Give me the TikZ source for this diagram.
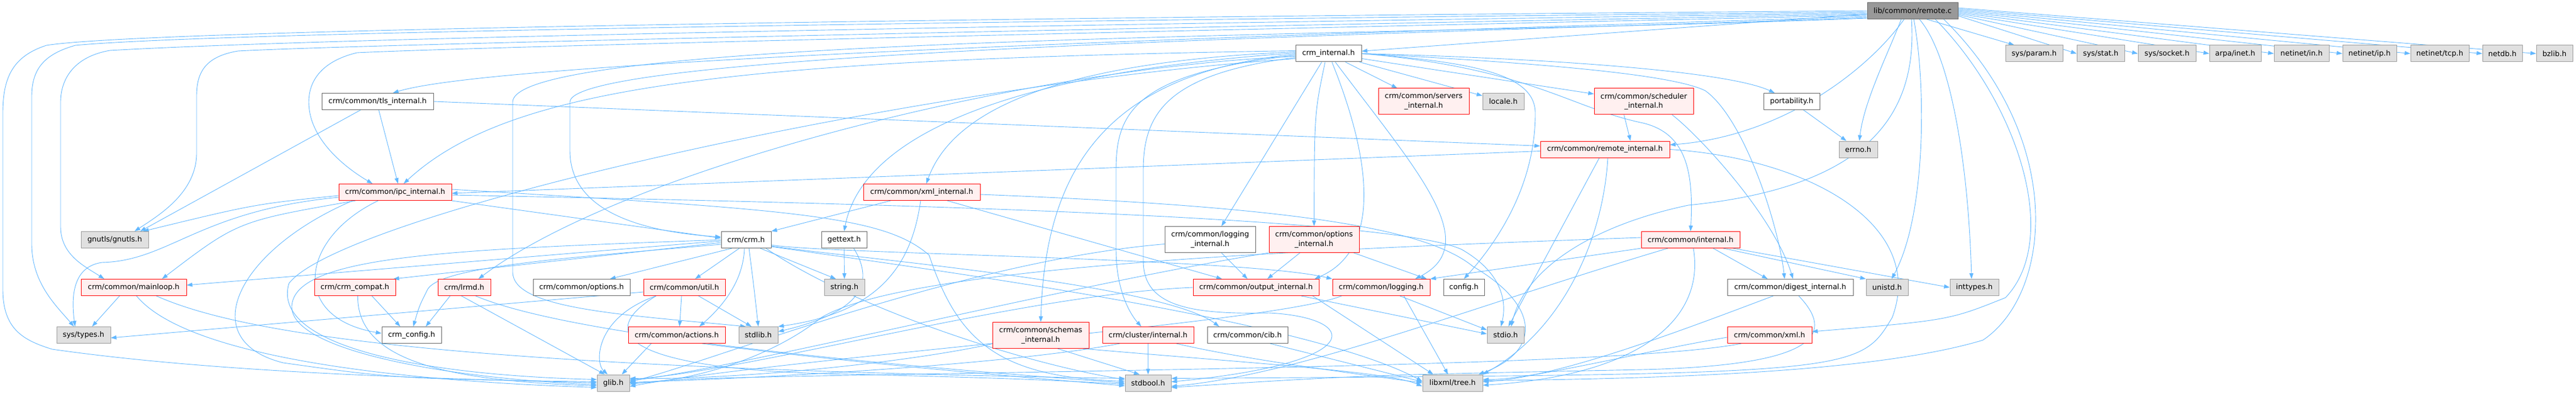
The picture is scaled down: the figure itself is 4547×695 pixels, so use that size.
\documentclass[tikz,border=0pt]{standalone}
\usepackage{fontspec}
\setmainfont{DejaVu Sans}
\usetikzlibrary{arrows.meta}
\definecolor{edgec}{HTML}{63B8FF}
\definecolor{redfill}{HTML}{FFF0F0}
\definecolor{redline}{HTML}{FF0000}
\definecolor{grayfill}{HTML}{E0E0E0}
\definecolor{grayline}{HTML}{999999}
\definecolor{darkline}{HTML}{666666}
\definecolor{rootfill}{HTML}{999999}
\pgfdeclarelayer{bg}
\pgfsetlayers{bg,main}
\newcommand{\dxfont}{\fontsize{12.9}{16.4}\selectfont}
\begin{document}
\begin{tikzpicture}[x=1pt,y=-1pt,
  box/.style={rectangle, draw, line width=1pt, inner sep=0pt, minimum height=29pt, align=center, font=\dxfont},
  rbox/.style={box, draw=redline, fill=redfill},
  wbox/.style={box, draw=darkline, fill=white},
  gbox/.style={box, draw=grayline, fill=grayfill},
  rootbox/.style={box, draw=darkline, fill=rootfill},
  dbl/.style={minimum height=46pt},
  dep/.style={draw=edgec, line width=0.9pt, -{Triangle[length=10pt,width=7pt]}}
]
\useasboundingbox (0,0) rectangle (4547,695);
% rank 0
\node[rootbox, minimum width=160pt] (R) at (3376,19) {lib/common/remote.c};
% rank 1
\node[wbox, minimum width=116pt] (crmint) at (2345,94.5) {crm\_internal.h};
\node[gbox, minimum width=101pt] (sysparam) at (3590.5,94.5) {sys/param.h};
\node[gbox, minimum width=84pt] (sysstat) at (3708,94.5) {sys/stat.h};
\node[gbox, minimum width=102pt] (syssocket) at (3825,94.5) {sys/socket.h};
\node[gbox, minimum width=91pt] (arpainet) at (3945.5,94.5) {arpa/inet.h};
\node[gbox, minimum width=97pt] (netin) at (4062.5,94.5) {netinet/in.h};
\node[gbox, minimum width=95pt] (netip) at (4182.5,94.5) {netinet/ip.h};
\node[gbox, minimum width=103pt] (nettcp) at (4306.5,94.5) {netinet/tcp.h};
\node[gbox, minimum width=70pt] (netdb) at (4417,94.5) {netdb.h};
\node[gbox, minimum width=64pt] (bzlib) at (4509,94.5) {bzlib.h};
% rank 2
\node[wbox, minimum width=197pt] (tls) at (666.5,179) {crm/common/tls\_internal.h};
\node[rbox, dbl, minimum width=160pt] (servers) at (2513,179) {crm/common/servers\\\_internal.h};
\node[gbox, minimum width=73pt] (locale) at (2653.5,179) {locale.h};
\node[rbox, dbl, minimum width=175pt] (sched) at (2901.5,179) {crm/common/scheduler\\\_internal.h};
\node[wbox, minimum width=99pt] (portab) at (3162.5,179) {portability.h};
% rank 3
\node[rbox, minimum width=228pt] (remint) at (2833,263.5) {crm/common/remote\_internal.h};
\node[gbox, minimum width=68pt] (errno) at (3280,263.5) {errno.h};
% rank 4
\node[rbox, minimum width=199pt] (ipcint) at (697.5,339) {crm/common/ipc\_internal.h};
\node[rbox, minimum width=206pt] (xmlint) at (1627,339) {crm/common/xml\_internal.h};
% rank 5
\node[gbox, minimum width=119pt] (gnutls) at (202.5,423) {gnutls/gnutls.h};
\node[wbox, minimum width=88pt] (crmh) at (1317,423) {crm/crm.h};
\node[wbox, minimum width=80pt] (gettext) at (1490,423) {gettext.h};
\node[wbox, dbl, minimum width=160pt] (logint) at (2136,422.5) {crm/common/logging\\\_internal.h};
\node[rbox, dbl, minimum width=159pt] (optint) at (2319.5,422.5) {crm/common/options\\\_internal.h};
\node[rbox, minimum width=174pt] (cmnint) at (2984,423) {crm/common/internal.h};
% rank 6
\node[rbox, minimum width=186pt] (mainloop) at (236,507) {crm/common/mainloop.h};
\node[rbox, minimum width=143pt] (compat) at (626.5,507) {crm/crm\_compat.h};
\node[rbox, minimum width=93pt] (lrmd) at (819.5,507) {crm/lrmd.h};
\node[wbox, minimum width=171pt] (options) at (1026.5,507) {crm/common/options.h};
\node[rbox, minimum width=144pt] (util) at (1208,507) {crm/common/util.h};
\node[gbox, minimum width=71pt] (stringh) at (1490.5,507) {string.h};
\node[rbox, minimum width=222pt] (outint) at (2217,507) {crm/common/output\_internal.h};
\node[rbox, minimum width=172pt] (logging) at (2438,507) {crm/common/logging.h};
\node[wbox, minimum width=72pt] (config) at (2584,507) {config.h};
\node[wbox, minimum width=222pt] (digest) at (3160,507) {crm/common/digest\_internal.h};
\node[gbox, minimum width=74pt] (unistd) at (3331,507) {unistd.h};
\node[gbox, minimum width=86pt] (inttypes) at (3485,507) {inttypes.h};
% rank 7
\node[gbox, minimum width=95pt] (systypes) at (147.5,591) {sys/types.h};
\node[wbox, minimum width=105pt] (crmconfig) at (726.5,591) {crm\_config.h};
\node[rbox, minimum width=171pt] (actions) at (1194.5,591) {crm/common/actions.h};
\node[gbox, minimum width=69pt] (stdlib) at (1338.5,591) {stdlib.h};
\node[rbox, dbl, minimum width=170pt] (schemas) at (1837,591.5) {crm/common/schemas\\\_internal.h};
\node[rbox, minimum width=161pt] (cluster) at (2026.5,591) {crm/cluster/internal.h};
\node[wbox, minimum width=142pt] (cib) at (2202,591) {crm/common/cib.h};
\node[gbox, minimum width=65pt] (stdio) at (2657.5,591) {stdio.h};
\node[rbox, minimum width=149pt] (xmlh) at (3123.5,591) {crm/common/xml.h};
% rank 8
\node[gbox, minimum width=57pt] (glib) at (1082.5,675.5) {glib.h};
\node[gbox, minimum width=81pt] (stdbool) at (2026.5,675.5) {stdbool.h};
\node[gbox, minimum width=106pt] (libxml) at (2564,675.5) {libxml/tree.h};

\begin{pgfonlayer}{bg}
\fill[white] (0,0) rectangle (4547,695);
% ---------- from remote.c ----------
\draw[dep] (R) -- (crmint);
\draw[dep] ([xshift=25]R.south) -- ([xshift=-35]sysparam.north);
\draw[dep] ([yshift=-9]R.east) -- (sysstat.west);
\draw[dep] ([yshift=-7]R.east) -- (syssocket.west);
\draw[dep] ([yshift=-5]R.east) -- (arpainet.west);
\draw[dep] ([yshift=-3]R.east) -- (netin.west);
\draw[dep] ([yshift=-1]R.east) -- (netip.west);
\draw[dep] ([yshift=1]R.east) -- (nettcp.west);
\draw[dep] ([yshift=3]R.east) -- (netdb.west);
\draw[dep] ([yshift=5]R.east) -- (bzlib.west);
\draw[dep] ([xshift=-20]R.south) .. controls (3330,100) and (3290,180) .. ([xshift=2]errno.north);
\draw[dep] ([xshift=2]R.south) .. controls (3400,150) and (3400,380) .. ([xshift=8]unistd.north);
\draw[dep] ([xshift=12]R.south) .. controls (3445,100) and (3475,300) .. ([xshift=-5]inttypes.north);
\draw[dep] ([xshift=40]R.south) .. controls (3560,180) and (3640,420) .. (3540,525) .. controls (3440,565) .. ([yshift=6]xmlh.east);
\draw[dep] ([xshift=-2]R.south) .. controls (3385,200) and (3300,330) .. (2980,362) .. controls (2800,400) and (2690,480) .. ([xshift=10]stdio.north);
\draw[dep] ([xshift=-15]R.south) .. controls (3300,120) and (3150,240) .. ([yshift=8]remint.east);
\draw[dep] ([xshift=55]R.south) .. controls (3650,250) and (3620,520) .. (3500,600) .. controls (3300,660) and (2900,668) .. ([yshift=4]libxml.east);
\draw[dep] (R.west) .. controls (2500,25) and (300,45) .. (82,80) .. controls (20,100) and (5,140) .. (5,200) -- (5,510) .. controls (5,580) and (40,600) .. (92,616) .. controls (400,660) and (800,668) .. (glib.west);
\draw[dep] ([yshift=-2]R.west) .. controls (2500,30) and (450,50) .. (133,80) .. controls (80,95) and (56,120) .. (56,170) -- (56,430) .. controls (56,500) and (100,540) .. ([xshift=-17]systypes.north);
\draw[dep] ([yshift=-4]R.west) .. controls (2500,35) and (700,60) .. (194,89) .. controls (130,100) and (107,140) .. (107,180) -- (107,400) .. controls (107,450) and (150,470) .. ([xshift=-52]mainloop.north);
\draw[dep] ([yshift=-6]R.west) .. controls (2500,40) and (700,75) .. (420,90) .. controls (360,100) and (347,130) .. (347,170) -- (347,270) .. controls (347,340) and (280,380) .. ([xshift=35]gnutls.north);
\draw[dep] ([yshift=-8]R.west) .. controls (2500,45) and (900,80) .. (630,93) .. controls (560,110) and (545,150) .. (545,180) .. controls (545,240) and (600,290) .. ([xshift=-40]ipcint.north);
\draw[dep] ([yshift=-10]R.west) .. controls (2500,55) and (900,100) .. ([xshift=27]tls.north);
\draw[dep] ([yshift=-12]R.west) .. controls (2500,60) and (1006,90) .. (1006,180) -- (1006,266) .. controls (1006,380) and (1150,410) .. ([yshift=5]crmh.west);
\draw[dep] ([yshift=-13]R.west) .. controls (2500,65) and (905,60) .. (905,180) -- (905,480) .. controls (905,545) and (1100,555) .. ([xshift=-22]stdlib.north);
% ---------- from crm_internal.h ----------
\draw[dep] (crmint) -- (servers);
\draw[dep] (crmint) -- (locale);
\draw[dep] (crmint) -- (sched);
\draw[dep] ([yshift=5]crmint.west) .. controls (1300,105) and (900,150) .. ([xshift=15]ipcint.north);
\draw[dep] ([yshift=-5]crmint.west) .. controls (1800,120) and (1100,300) .. ([xshift=25]lrmd.north);
\draw[dep] ([yshift=3]crmint.west) .. controls (1850,110) and (1680,200) .. ([xshift=8]xmlint.north);
\draw[dep] ([yshift=1]crmint.west) .. controls (1750,130) and (1520,250) .. (gettext.north);
\draw[dep] ([yshift=-1]crmint.west) .. controls (1950,130) and (1845,300) .. (schemas.north);
\draw[dep] ([yshift=-3]crmint.west) .. controls (2000,130) and (1970,200) .. (1970,300) -- (1970,440) .. controls (1970,520) and (2000,560) .. ([xshift=-12]cluster.north);
\draw[dep] ([yshift=-7]crmint.west) .. controls (2060,130) and (2018,200) .. (2018,300) -- (2018,460) .. controls (2018,540) and (2100,555) .. (2240,552) .. controls (2400,560) and (2420,640) .. ([yshift=2]stdbool.east);
\draw[dep] ([yshift=-9]crmint.west) .. controls (1600,150) and (600,380) .. (510,500) .. controls (480,600) and (700,660) .. ([yshift=6]glib.west);
\draw[dep] ([xshift=-12]crmint.south) -- ([xshift=20]logint.north);
\draw[dep] ([xshift=-6]crmint.south) .. controls (2320,200) .. (optint.north);
\draw[dep] ([xshift=6]crmint.south) .. controls (2420,280) and (2440,440) .. ([xshift=-8]outint.north east);
\draw[dep] ([xshift=12]crmint.south) .. controls (2500,300) and (2620,430) .. ([xshift=60]logging.north);
\draw[dep] (crmint.east) .. controls (2600,110) and (2710,130) .. (2710,200) .. controls (2710,330) and (2640,430) .. (config.north);
\draw[dep] (crmint.east) .. controls (2800,105) and (3060,130) .. ([xshift=-30]portab.north);
\draw[dep] (crmint.east) .. controls (2700,110) and (2950,130) .. (3010,160) .. controls (3080,210) and (3140,400) .. ([xshift=-10]digest.north);
\draw[dep] (crmint.east) .. controls (2700,120) and (2770,190) .. (2900,217) .. controls (2975,235) and (2990,300) .. (cmnint.north);
% ---------- tls / remote_internal / scheduler / portability ----------
\draw[dep] ([xshift=-30]tls.south) -- ([xshift=45]gnutls.north);
\draw[dep] ([xshift=2]tls.south) -- ([xshift=5]ipcint.north);
\draw[dep] (tls.east) -- ([yshift=6]remint.west);
\draw[dep] ([yshift=-3]remint.west) -- ([yshift=-2]ipcint.east);
\draw[dep] ([xshift=-10]remint.south) -- ([xshift=5]stdio.north);
\draw[dep] ([xshift=5]remint.south) .. controls (2830,420) and (2760,580) .. (libxml.north east);
\draw[dep] (remint.east) .. controls (3200,280) and (3400,400) .. (3340,560) .. controls (3280,660) .. ([yshift=8]stdbool.east);
\draw[dep] ([xshift=-35]sched.south) -- ([xshift=45]remint.north);
\draw[dep] ([xshift=50]sched.south) .. controls (3000,240) and (3130,380) .. ([xshift=5]digest.north);
\draw[dep] (portab) -- (errno);
% ---------- ipc_internal ----------
\draw[dep] ([yshift=-6]ipcint.west) .. controls (450,360) .. ([xshift=50]gnutls.north);
\draw[dep] ([yshift=-9]ipcint.west) .. controls (350,372) and (300,460) .. (180,463) .. controls (130,470) and (125,520) .. ([xshift=-15]systypes.north);
\draw[dep] ([xshift=-70]ipcint.south) .. controls (420,390) .. ([xshift=50]mainloop.north);
\draw[dep] ([xshift=-30]ipcint.south) .. controls (530,420) and (510,560) .. ([yshift=3]crmconfig.west);
\draw[dep] ([xshift=-75]ipcint.south) .. controls (420,440) and (340,600) .. (500,640) .. controls (700,668) .. ([yshift=2]glib.west);
\draw[dep] (ipcint.south east) -- ([yshift=3]crmh.west);
\draw[dep] ([yshift=5]ipcint.east) .. controls (1400,370) and (1560,380) .. (1640,450) .. controls (1690,600) and (1760,665) .. ([yshift=3]stdbool.west);
\draw[dep] ([yshift=-5]ipcint.east) .. controls (1500,358) and (2450,380) .. (2580,440) .. controls (2650,480) and (2660,530) .. ([xshift=-8]stdio.north);
% ---------- xml_internal ----------
\draw[dep] ([xshift=-55]xmlint.south) -- (crmh.north east);
\draw[dep] ([xshift=-2]xmlint.south) .. controls (1610,460) and (1560,550) .. (stdlib.north east);
\draw[dep] ([xshift=45]xmlint.south) -- ([xshift=-60]outint.north);
\draw[dep] ([yshift=-4]xmlint.east) .. controls (2300,365) and (2520,405) .. (2600,470) .. controls (2720,540) and (2720,620) .. ([xshift=-8]libxml.north east);
% ---------- crm.h ----------
\draw[dep] ([yshift=-2]crmh.west) -- ([yshift=4]mainloop.east);
\draw[dep] ([yshift=-5]crmh.west) -- ([xshift=-4]compat.north east);
\draw[dep] ([yshift=-8]crmh.west) .. controls (1000,455) and (780,470) .. (755,510) .. controls (740,540) .. ([xshift=3]crmconfig.north);
\draw[dep] ([xshift=-25]crmh.south) -- ([xshift=50]options.north);
\draw[dep] ([xshift=-12]crmh.south) -- ([xshift=19]util.north);
\draw[dep] ([xshift=-3]crmh.south) .. controls (1312,500) and (1270,545) .. ([xshift=40]actions.north);
\draw[dep] ([xshift=5]crmh.south) .. controls (1330,500) .. (stdlib.north);
\draw[dep] ([xshift=25]crmh.south) -- ([xshift=-15]stringh.north);
\draw[dep] ([xshift=35]crmh.south) .. controls (1500,540) and (1800,640) .. ([yshift=6]stdbool.west);
\draw[dep] ([yshift=-9]crmh.east) .. controls (1450,448) and (2200,455) .. (logging.north west);
\draw[dep] ([yshift=-11]crmh.east) .. controls (1500,455) and (2050,500) .. ([xshift=-50]cib.north);
\draw[dep] ([yshift=-12]crmh.east) .. controls (1600,470) and (2300,560) .. ([yshift=3]libxml.west);
\draw[dep] (crmh.west) .. controls (800,440) and (520,450) .. (515,540) .. controls (512,620) and (800,668) .. ([yshift=-3]glib.west);
% ---------- util / actions / compat / mainloop / lrmd / gettext ----------
\draw[dep] ([yshift=-8]util.west) -- ([yshift=-5]systypes.east);
\draw[dep] ([xshift=-50]util.south) .. controls (1050,560) and (1050,640) .. ([xshift=-10]glib.north);
\draw[dep] ([xshift=-5]util.south) -- ([xshift=5]actions.north);
\draw[dep] ([xshift=25]util.south) -- ([xshift=-12]stdlib.north);
\draw[dep] ([xshift=-50]util.south) .. controls (1030,600) and (1150,655) .. (1500,660) .. controls (1800,668) .. ([yshift=-2]stdbool.west);
\draw[dep] ([xshift=-45]actions.south) -- ([xshift=15]glib.north);
\draw[dep] ([xshift=45]actions.south) .. controls (1500,640) and (1800,665) .. ([yshift=-5]stdbool.west);
\draw[dep] ([xshift=30]compat.south) -- ([xshift=-20]crmconfig.north);
\draw[dep] ([xshift=5]compat.south) .. controls (630,640) and (800,672) .. ([yshift=-5]glib.west);
\draw[dep] ([xshift=-25]mainloop.south) -- ([xshift=15]systypes.north);
\draw[dep] ([xshift=5]mainloop.south) .. controls (330,630) and (700,672) .. ([yshift=-8]glib.west);
\draw[dep] ([xshift=40]mainloop.south) .. controls (450,600) and (900,650) .. ([yshift=8]stdbool.west);
\draw[dep] ([xshift=-25]lrmd.south) -- ([xshift=25]crmconfig.north);
\draw[dep] ([xshift=-5]lrmd.south) -- ([xshift=-15]glib.north);
\draw[dep] ([xshift=20]lrmd.south) .. controls (1000,590) and (1500,640) .. (stdbool.west);
\draw[dep] (gettext.south) -- (stringh.north);
\draw[dep] ([xshift=17]gettext.south) .. controls (1545,500) and (1520,550) .. ([yshift=6]stdlib.east);
% ---------- logging_internal / options_internal / internal ----------
\draw[dep] ([xshift=20]logint.south) -- ([xshift=-15]outint.north);
\draw[dep] ([yshift=-8]logint.west) .. controls (1700,460) and (1250,640) .. ([yshift=2]glib.east);
\draw[dep] ([xshift=-25]optint.south) -- ([xshift=20]outint.north);
\draw[dep] ([xshift=70]optint.south) -- ([xshift=-6]logging.north east);
\draw[dep] (optint.south west) .. controls (1900,500) and (1300,650) .. ([yshift=4]glib.east);
\draw[dep] (cmnint.south west) -- (logging.north east);
\draw[dep] ([yshift=4]cmnint.west) .. controls (2300,440) and (1600,470) .. (1450,560) .. controls (1350,640) and (1200,675) .. (glib.east);
\draw[dep] ([xshift=-40]cmnint.south) .. controls (2600,540) and (2300,660) .. ([yshift=-6]stdbool.east);
\draw[dep] ([xshift=5]cmnint.south) .. controls (3010,560) and (2900,662) .. ([yshift=-4]libxml.east);
\draw[dep] ([xshift=40]cmnint.south) -- ([xshift=-40]digest.north);
\draw[dep] ([xshift=58]cmnint.south) -- (unistd.north west);
\draw[dep] ([xshift=75]cmnint.south) -- (inttypes.west);
% ---------- digest / xml.h ----------
\draw[dep] ([xshift=-30]digest.south) .. controls (2950,590) and (2750,665) .. ([yshift=2]libxml.east);
\draw[dep] ([xshift=15]digest.south) .. controls (3250,600) and (3180,645) .. (2900,652) .. controls (2400,662) .. ([yshift=-8]stdbool.east);
\draw[dep] ([yshift=-4]xmlh.west) .. controls (2900,620) and (2700,670) .. ([yshift=6]libxml.east);
\draw[dep] ([xshift=-50]xmlh.south) .. controls (2900,640) and (2200,650) .. (1500,662) .. controls (1200,668) .. ([yshift=-2]glib.east);
% ---------- output_internal / logging ----------
\draw[dep] ([xshift=80]outint.south) -- ([yshift=2]stdio.west);
\draw[dep] ([xshift=100]outint.south) -- ([xshift=-34]libxml.north);
\draw[dep] (outint.west) .. controls (1800,520) and (1350,650) .. ([yshift=6]glib.east);
\draw[dep] ([xshift=33]logging.south) -- ([yshift=9]stdio.west);
\draw[dep] ([xshift=40]logging.south) -- ([xshift=-8]libxml.north);
\draw[dep] ([xshift=-70]logging.south) .. controls (2250,570) and (1400,630) .. ([yshift=-6]glib.east);
% ---------- schemas / cluster / cib ----------
\draw[dep] ([xshift=30]schemas.south) -- ([xshift=-15]stdbool.north);
\draw[dep] ([yshift=-15]schemas.west) .. controls (1600,640) and (1300,670) .. ([yshift=8]glib.east);
\draw[dep] ([xshift=75]schemas.south) .. controls (2200,640) and (2450,655) .. ([yshift=-6]libxml.west);
\draw[dep] (cluster.south) -- (stdbool.north);
\draw[dep] ([xshift=-50]cluster.south) .. controls (1800,640) and (1400,665) .. ([yshift=1]glib.east);
\draw[dep] ([xshift=50]cluster.south) .. controls (2200,635) and (2400,660) .. (libxml.west);
\draw[dep] ([xshift=40]cib.south) -- ([yshift=2]libxml.west);
\end{pgfonlayer}
\end{tikzpicture}
\end{document}
